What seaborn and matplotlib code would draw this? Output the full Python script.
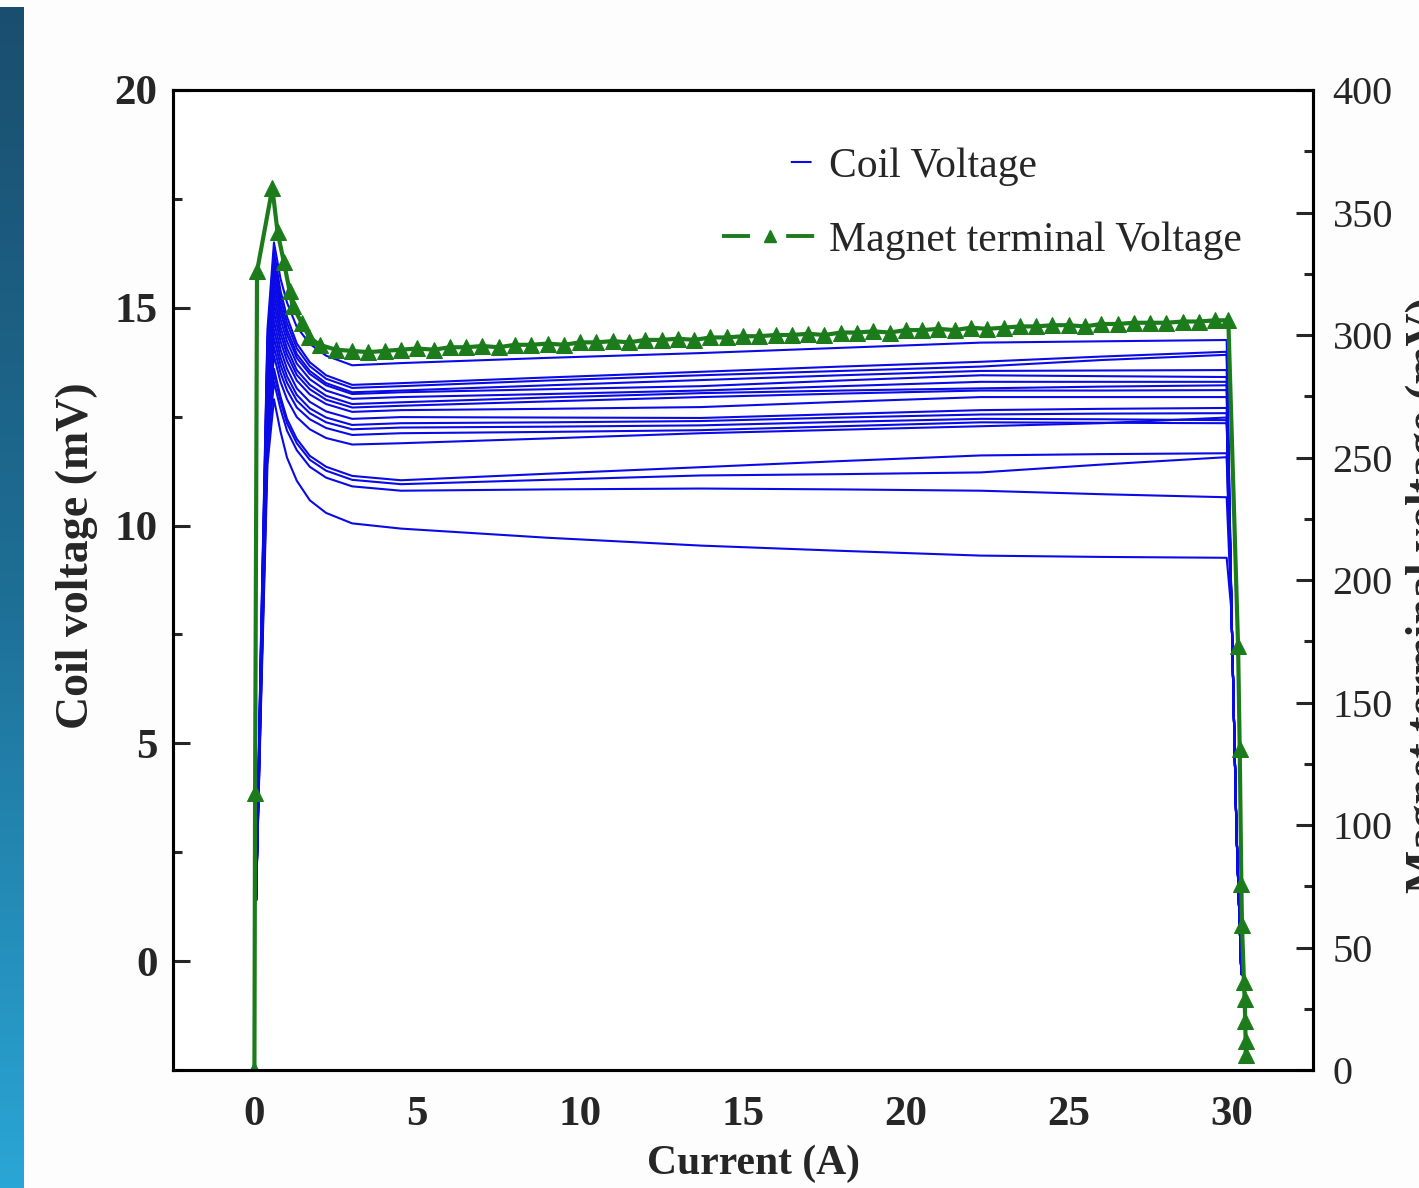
import numpy as np
import pandas as pd
import matplotlib
matplotlib.use('Agg')
import matplotlib.pyplot as plt
from matplotlib.lines import Line2D
from matplotlib.ticker import MultipleLocator
import seaborn as sns

# current grid shared by the coil voltage curves (A)
coil_x = [0.05, 0.2, 0.4, 0.6, 0.8, 1.0, 1.3, 1.7, 2.2, 3.0,
          4.5, 9.0, 13.7, 18.0, 22.3, 26.0, 29.85, 30.0, 30.15, 30.3]

# coil voltage curves (mV), one row per run
coil_mv = [
    [1.4, 7.4, 14.5, 16.5, 15.67, 15.12, 14.56, 14.17, 13.90, 13.68, 13.73, 13.85, 13.96, 14.08, 14.20, 14.23, 14.26, 8.0, 3.0, -0.3],
    [1.4, 7.3, 14.3, 16.3, 15.39, 14.79, 14.18, 13.75, 13.45, 13.23, 13.27, 13.40, 13.53, 13.65, 13.76, 13.88, 13.99, 8.0, 3.0, -0.3],
    [1.4, 7.2, 14.2, 16.1, 15.23, 14.65, 14.07, 13.66, 13.37, 13.16, 13.20, 13.33, 13.45, 13.55, 13.65, 13.80, 13.92, 8.0, 3.0, -0.3],
    [1.4, 7.1, 14.0, 15.9, 15.06, 14.50, 13.94, 13.55, 13.27, 13.06, 13.10, 13.22, 13.34, 13.45, 13.55, 13.56, 13.57, 8.0, 3.0, -0.3],
    [1.4, 7.0, 13.8, 15.7, 14.91, 14.38, 13.85, 13.48, 13.22, 13.02, 13.06, 13.13, 13.20, 13.33, 13.45, 13.43, 13.41, 8.0, 3.0, -0.3],
    [1.4, 7.0, 13.6, 15.5, 14.74, 14.23, 13.72, 13.36, 13.10, 12.91, 12.95, 13.02, 13.10, 13.20, 13.30, 13.30, 13.30, 8.0, 3.0, -0.3],
    [1.4, 6.9, 13.5, 15.3, 14.56, 14.07, 13.57, 13.23, 12.98, 12.79, 12.83, 12.94, 13.04, 13.10, 13.15, 13.19, 13.22, 8.0, 3.0, -0.3],
    [1.4, 6.8, 13.3, 15.1, 14.40, 13.93, 13.46, 13.13, 12.89, 12.71, 12.75, 12.85, 12.95, 13.03, 13.10, 13.10, 13.11, 8.0, 3.0, -0.3],
    [1.4, 6.7, 13.1, 14.9, 14.23, 13.78, 13.33, 13.01, 12.79, 12.61, 12.65, 12.68, 12.72, 12.84, 12.95, 12.95, 12.95, 8.0, 3.0, -0.3],
    [1.4, 6.6, 12.9, 14.7, 14.04, 13.60, 13.15, 12.84, 12.62, 12.45, 12.49, 12.48, 12.47, 12.56, 12.65, 12.68, 12.70, 8.0, 3.0, -0.3],
    [1.4, 6.5, 12.8, 14.5, 13.86, 13.43, 13.00, 12.69, 12.48, 12.31, 12.35, 12.37, 12.40, 12.48, 12.55, 12.57, 12.58, 8.0, 3.0, -0.3],
    [1.4, 6.4, 12.6, 14.3, 13.69, 13.28, 12.87, 12.58, 12.37, 12.21, 12.25, 12.27, 12.30, 12.38, 12.45, 12.44, 12.42, 8.0, 3.0, -0.3],
    [1.4, 6.3, 12.4, 14.1, 13.51, 13.11, 12.71, 12.44, 12.24, 12.08, 12.12, 12.15, 12.19, 12.28, 12.37, 12.36, 12.35, 8.0, 3.0, -0.3],
    [1.4, 6.3, 12.2, 13.9, 13.30, 12.90, 12.49, 12.21, 12.01, 11.86, 11.89, 12.00, 12.12, 12.20, 12.28, 12.35, 12.48, 8.0, 3.0, -0.3],
    [1.4, 6.1, 12.0, 13.6, 12.96, 12.45, 11.99, 11.60, 11.35, 11.14, 11.04, 11.19, 11.34, 11.48, 11.61, 11.64, 11.66, 8.0, 3.0, -0.3],
    [1.4, 6.1, 11.9, 13.5, 12.86, 12.35, 11.89, 11.51, 11.26, 11.05, 10.95, 11.05, 11.15, 11.18, 11.22, 11.40, 11.57, 8.0, 3.0, -0.3],
    [1.4, 6.0, 11.7, 13.3, 12.68, 12.18, 11.73, 11.35, 11.10, 10.90, 10.80, 10.83, 10.85, 10.83, 10.80, 10.72, 10.65, 8.0, 3.0, -0.3],
    [1.4, 5.8, 11.4, 12.9, 12.16, 11.56, 11.03, 10.58, 10.29, 10.05, 9.93, 9.72, 9.54, 9.42, 9.31, 9.28, 9.26, 8.0, 3.0, -0.3],
]

# magnet terminal voltage (mV) vs current (A)
magnet_x = [0.0, 0.02, 0.08, 0.55, 0.71, 0.9, 1.08, 1.17, 1.45, 1.69, 2.0, 2.5, 3.0, 3.5,
            4.0, 4.5, 5.0, 5.5, 6.0, 6.5, 7.0, 7.5, 8.0, 8.5, 9.0, 9.5, 10.0, 10.5, 11.0, 11.5,
            12.0, 12.5, 13.0, 13.5, 14.0, 14.5, 15.0, 15.5, 16.0, 16.5, 17.0, 17.5, 18.0, 18.5,
            19.0, 19.5, 20.0, 20.5, 21.0, 21.5, 22.0, 22.5, 23.0, 23.5, 24.0, 24.5, 25.0, 25.5,
            26.0, 26.5, 27.0, 27.5, 28.0, 28.5, 29.0, 29.5, 29.9,
            30.2, 30.25, 30.3, 30.32, 30.38, 30.4, 30.42, 30.43, 30.44]
magnet_mv = [0, 113, 326, 360, 342, 330, 318, 312, 305, 299, 296, 294, 293.5, 293,
             293.5, 294, 294.5, 294, 295, 295, 295.5, 295, 296, 296, 296.5, 296, 297, 297, 297.5, 297,
             298, 298, 298.5, 298, 299, 299, 299.5, 299.5, 300, 300, 300.5, 300, 301, 301,
             301.5, 301, 302, 302, 302.5, 302, 303, 302.5, 303, 303.5, 303.5, 304, 304, 303.5,
             304.5, 304.5, 305, 305, 305, 305.5, 305.5, 306, 306,
             173, 131, 76, 59, 36, 29, 20, 12, 6]

blue = '#0a0ae6'
green = '#1c7c1c'

rows = []
for run, vals in enumerate(coil_mv):
    for cx, cv in zip(coil_x, vals):
        rows.append({'run': run, 'current': cx, 'coil': cv})
coil_df = pd.DataFrame(rows)
magnet_df = pd.DataFrame({'current': magnet_x, 'magnet': magnet_mv})

sns.set_style('white')
plt.rcParams['font.family'] = ['Liberation Serif', 'DejaVu Serif']
plt.rcParams['axes.linewidth'] = 2.2

fig = plt.figure(figsize=(14.19, 11.88), dpi=100, facecolor='#fdfdfd')

# blue slide strip on the left edge
strip = fig.add_axes([0, 0, 24 / 1419, 1181 / 1188])
grad = np.linspace(0, 1, 256).reshape(-1, 1)
cmap = matplotlib.colors.LinearSegmentedColormap.from_list('strip', ['#1a4e6e', '#1e6f96', '#2aa6d6'])
strip.imshow(grad, aspect='auto', cmap=cmap)
strip.set_axis_off()

ax = fig.add_axes([173 / 1419, 118 / 1188, 1140 / 1419, 980 / 1188])
ax.set_facecolor('white')
sns.lineplot(data=coil_df, x='current', y='coil', units='run', estimator=None, sort=False,
             color=blue, lw=1.5, ax=ax, legend=False)

ax2 = ax.twinx()
sns.lineplot(data=magnet_df, x='current', y='magnet', sort=False, estimator=None,
             color=green, lw=3.0, marker='^', markersize=12, markeredgecolor=green,
             ax=ax2, legend=False)

ax.set_xlim(-2.5, 32.5)
ax.set_ylim(-2.5, 20)
ax2.set_ylim(0, 400)

ax.xaxis.set_major_locator(MultipleLocator(5))
ax.xaxis.set_minor_locator(MultipleLocator(2.5))
ax.yaxis.set_major_locator(MultipleLocator(5))
ax.yaxis.set_minor_locator(MultipleLocator(2.5))
ax2.yaxis.set_major_locator(MultipleLocator(50))
ax2.yaxis.set_minor_locator(MultipleLocator(25))

ax.tick_params(axis='both', which='both', direction='in', top=False, right=False, width=2.2)
ax.tick_params(axis='both', which='major', length=12)
ax.tick_params(axis='both', which='minor', length=6.5)
ax.tick_params(axis='y', which='major', pad=11, labelsize=31)
ax.tick_params(axis='x', which='major', pad=19, labelsize=31)
ax2.tick_params(axis='y', which='both', direction='in', width=2.2, pad=14, labelsize=29)
ax2.tick_params(axis='y', which='major', length=12)
ax2.tick_params(axis='y', which='minor', length=6.5)
for lab in ax.get_xticklabels() + ax.get_yticklabels():
    lab.set_fontweight('bold')

for a in (ax, ax2):
    for s in a.spines.values():
        s.set_visible(True)
        s.set_linewidth(2.2)
        s.set_color('black')

ax.set_xlabel('Current (A)', fontsize=30, fontweight='bold')
ax.xaxis.set_label_coords(0.509, -0.076)
ax.set_ylabel('Coil voltage (mV)', fontsize=33, fontweight='bold')
ax.yaxis.set_label_coords(-0.066, 0.525)
ax2.set_ylabel('')
fig.text(1427 / 1419, 1 - 595 / 1188, 'Magnet terminal voltage (mV)', rotation=90,
         ha='center', va='center', fontsize=33, fontweight='bold')

handles = [Line2D([], [], color=blue, lw=1.5, linestyle=(0, (0.01, 33, 10, 100))),
           Line2D([], [], color=green, lw=2.8, marker='^', markersize=8,
                  linestyle=(0, (7.2, 9.3, 7.2, 20)))]
ax.legend(handles, ['Coil Voltage', 'Magnet terminal Voltage'], loc='upper left',
          bbox_to_anchor=(0.449, 0.98), frameon=False, fontsize=30,
          handlelength=2.3, handletextpad=0.25, labelspacing=0.85)

fig.savefig('out.png', dpi=100, facecolor=fig.get_facecolor())
